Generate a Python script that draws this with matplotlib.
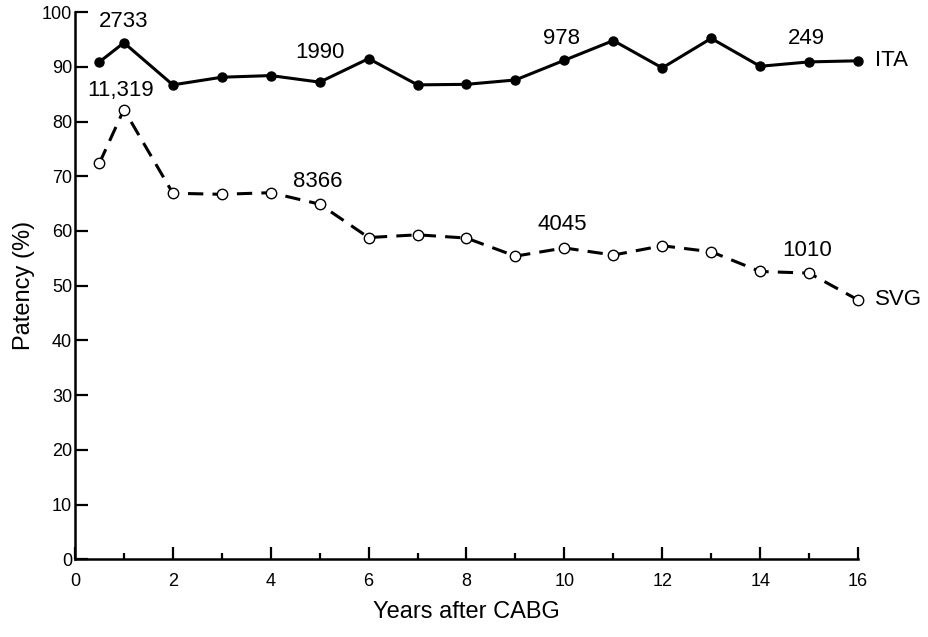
import matplotlib.pyplot as plt
from matplotlib.ticker import MultipleLocator

plt.rcParams["font.family"] = ["Liberation Sans", "DejaVu Sans"]

# years after CABG
years = [0.5, 1, 2, 3, 4, 5, 6, 7, 8, 9, 10, 11, 12, 13, 14, 15, 16]
# patency (%)
ita = [90.9, 94.4, 86.7, 88.1, 88.4, 87.2, 91.5, 86.7, 86.8, 87.6, 91.2, 94.8, 89.8, 95.2, 90.1, 90.9, 91.1]
svg = [72.4, 82.2, 66.9, 66.7, 67.0, 64.9, 58.8, 59.3, 58.7, 55.4, 56.9, 55.6, 57.3, 56.2, 52.6, 52.3, 47.4]

# number of grafts at risk
ita_n = ["2733", "1990", "978", "249"]
ita_n_pos = [(1.0, 98.2), (5.0, 92.7), (9.95, 95.2), (14.95, 95.2)]
svg_n = ["11,319", "8366", "4045", "1010"]
svg_n_pos = [(0.94, 85.7), (4.97, 69.0), (9.95, 61.1), (14.97, 56.5)]

fig = plt.figure(figsize=(9.29, 6.37), dpi=100)
ax = fig.add_axes([0.0807, 0.122, 0.8429, 0.859])

ax.plot(years, ita, color="black", lw=2.2, marker="o", ms=6.5,
        markerfacecolor="black", clip_on=False)
ax.plot(years, svg, color="black", lw=2.2, ls=(0, (5, 3)), marker="o", ms=7.5,
        markerfacecolor="white", markeredgewidth=1.0, clip_on=False)

for t, (x, y) in zip(ita_n, ita_n_pos):
    ax.text(x, y, t, ha="center", va="center", fontsize=16)
for t, (x, y) in zip(svg_n, svg_n_pos):
    ax.text(x, y, t, ha="center", va="center", fontsize=16)

ax.text(16.35, ita[-1], "ITA", ha="left", va="center", fontsize=16)
ax.text(16.35, svg[-1], "SVG", ha="left", va="center", fontsize=16)

ax.set_xlim(0, 16)
ax.set_ylim(0, 100)
ax.xaxis.set_major_locator(MultipleLocator(2))
ax.xaxis.set_minor_locator(MultipleLocator(1))
ax.yaxis.set_major_locator(MultipleLocator(10))
ax.tick_params(axis="both", which="major", direction="in", length=9, width=1.6,
               labelsize=13)
ax.tick_params(axis="x", which="major", pad=10)
ax.tick_params(axis="y", which="major", pad=2)
ax.tick_params(axis="x", which="minor", direction="in", length=4, width=1.6)

for s in ["top", "right"]:
    ax.spines[s].set_visible(False)
for s in ["left", "bottom"]:
    ax.spines[s].set_linewidth(1.8)

ax.set_xlabel("Years after CABG", fontsize=17, labelpad=8)
ax.set_ylabel("Patency (%)", fontsize=17, labelpad=5)

fig.savefig("out.png", dpi=100)
